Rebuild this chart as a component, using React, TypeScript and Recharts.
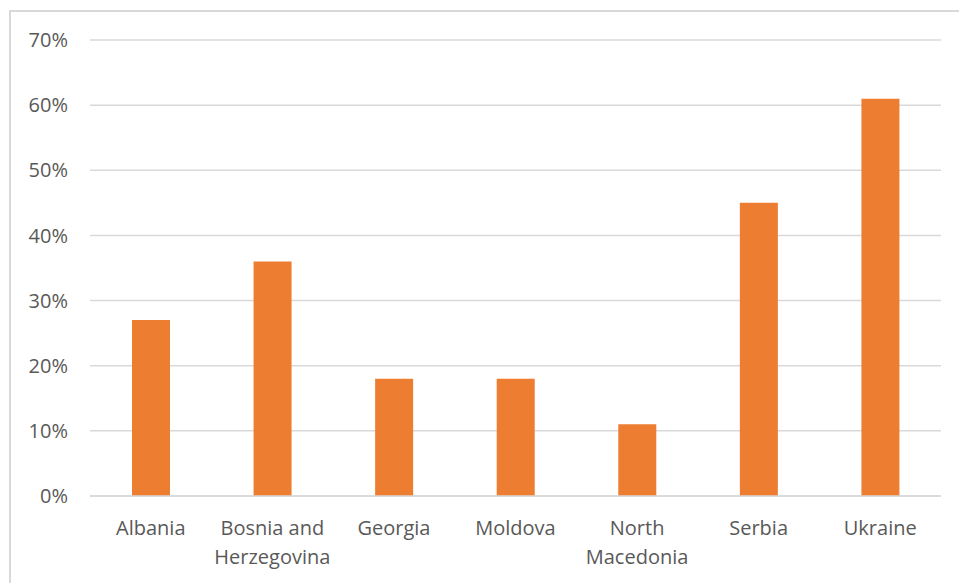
import { BarChart, Bar, XAxis, YAxis, CartesianGrid, Text } from "recharts";

const countries = ["Albania", "Bosnia and Herzegovina", "Georgia", "Moldova", "North Macedonia", "Serbia", "Ukraine"];
const shares = [0.27, 0.36, 0.18, 0.18, 0.11, 0.45, 0.61];
const yTicks = [0, 0.1, 0.2, 0.3, 0.4, 0.5, 0.6, 0.7];

const data = countries.map((name, i) => ({ name, value: shares[i] }));

const FONT = "'Segoe UI', 'Open Sans', sans-serif";
const TEXT = "#595959";
const GRID = "#d9d9d9";

// wraps long names like Excel does
const CountryTick = (props: any) => {
  const { x, y, payload } = props;
  return (
    <Text
      x={x}
      y={y}
      width={112}
      textAnchor="middle"
      verticalAnchor="start"
      lineHeight={29}
      fill={TEXT}
      fontSize={20}
      fontFamily={FONT}
    >
      {payload.value}
    </Text>
  );
};

export default function App() {
  // the chart frame runs off the right and bottom edges in the original,
  // so only the top and left sides are drawn
  return (
    <div
      style={{
        position: "fixed",
        left: 9,
        top: 10,
        width: 960,
        height: 580,
        borderTop: `2px solid ${GRID}`,
        borderLeft: `2px solid ${GRID}`,
        background: "#fff",
      }}
    >
      <style>{`html,body{overflow:hidden}`}</style>
      <BarChart
        width={940}
        height={565}
        data={data}
        margin={{ top: 28, right: 10, left: 0, bottom: 21 }}
      >
        <CartesianGrid vertical={false} stroke={GRID} strokeWidth={1.5} />
        <XAxis
          dataKey="name"
          height={60}
          axisLine={{ stroke: GRID, strokeWidth: 1.5 }}
          tickLine={false}
          tickSize={0}
          tickMargin={25}
          interval={0}
          tick={<CountryTick />}
        />
        <YAxis
          width={79}
          domain={[0, 0.7]}
          ticks={yTicks}
          axisLine={false}
          tickLine={false}
          tickSize={0}
          tickMargin={22}
          tickFormatter={(v: number) => `${Math.round(v * 100)}%`}
          tick={{ fill: TEXT, fontSize: 20, fontFamily: FONT }}
        />
        <Bar dataKey="value" fill="#ED7D31" barSize={38} isAnimationActive={false} />
      </BarChart>
    </div>
  );
}
